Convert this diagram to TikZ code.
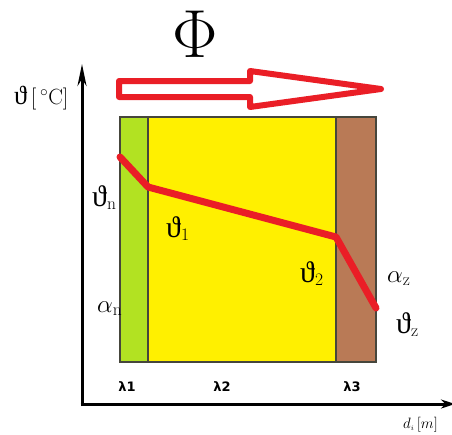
\RequirePackage{fix-cm}
\documentclass[tikz,border=0pt]{standalone}
\usepackage{fontspec}
\newfontfamily\lamfont{DejaVu Sans}
\newfontfamily\thetafont{Liberation Serif}
\newcommand{\tht}{\mbox{\thetafont\scalebox{1.2}{ϑ}}}
\usepackage{xcolor}
\definecolor{paredred}{RGB}{234, 30, 38}
\definecolor{paredgreen}{RGB}{178, 226, 34}
\definecolor{paredyellow}{RGB}{255, 240, 0}
\definecolor{paredbrown}{RGB}{185, 122, 86}
\definecolor{paredgray}{RGB}{70, 70, 60}
\usetikzlibrary{arrows.meta}

\begin{document}
\begin{tikzpicture}[x=1pt, y=-1pt, >=Stealth,
    capa/.style={draw=paredgray, line width=1.2pt},
    etiqueta/.style={font=\fontsize{25}{29}\selectfont, inner sep=0pt, anchor=base west},
    lambdalab/.style={font=\lamfont\bfseries\fontsize{13}{15}\selectfont, inner sep=0pt}]

\useasboundingbox (0,0) rectangle (452,434);

% === Ejes ===
\coordinate (origen) at (82,406);
\coordinate (ejey) at (82,64);
\coordinate (ejex) at (455,404);
\draw[line width=3pt, -{Stealth[length=22pt, width=9pt]}] (origen) -- (ejey);
\draw[line width=3pt, -{Stealth[length=14pt, width=9pt]}] (80.5,404) -- (ejex);

% Etiquetas de los ejes
\node (ylab) [font=\fontsize{22}{26}\selectfont, inner sep=0pt, anchor=base west]
    at (14,104) {$\tht\,[\,^\circ\mathrm{C}]$};
\node (xlab) [font=\fontsize{15}{18}\selectfont, inner sep=0pt, anchor=base west]
    at (403,428) {$d_{\scriptscriptstyle i}\,[m]$};

% === Capas de la pared ===
\fill[paredgreen] (120,117) rectangle (148,362);
\fill[paredyellow] (148,117) rectangle (336,362);
\fill[paredbrown] (336,117) rectangle (376,362);
\draw[capa] (120,117) rectangle (376,362);
\draw[capa] (148,117) -- (148,362);
\draw[capa] (336,117) -- (336,362);

% Conductividades
\node (l1) [lambdalab] at (127,387) {λ1};
\node (l2) [lambdalab] at (222,387) {λ2};
\node (l3) [lambdalab] at (352,387) {λ3};

% === Perfil de temperatura ===
\coordinate (tn) at (120,157);
\coordinate (t1) at (148,187);
\coordinate (t2) at (336,237);
\coordinate (tz) at (376,308);
\draw[paredred, line width=7pt, line cap=round, line join=round]
    (tn) -- (t1) -- (t2) -- (tz);

% Temperaturas y coeficientes
\node (tnlab) [etiqueta] at (92,206) {$\tht_{\mathrm{n}}$};
\node (t1lab) [etiqueta] at (166,237) {$\tht_1$};
\node (t2lab) [etiqueta] at (300,282) {$\tht_2$};
\node (tzlab) [etiqueta] at (396,333) {$\tht_{\mathrm{z}}$};
\node (anlab) [etiqueta] at (97,312) {$\alpha_{\mathrm{n}}$};
\node (azlab) [etiqueta] at (387,282) {$\alpha_{\mathrm{z}}$};

% === Flujo de calor ===
\draw[paredred, line width=6pt, fill=white, line join=round]
    (119,81) -- (250,81) -- (250,71) -- (381,89) -- (250,107) -- (250,97) -- (119,97) -- cycle;
\node (phi) [font=\fontsize{68}{72}\selectfont, inner sep=0pt, anchor=base] at (195,57) {$\Phi$};

\end{tikzpicture}
\end{document}
